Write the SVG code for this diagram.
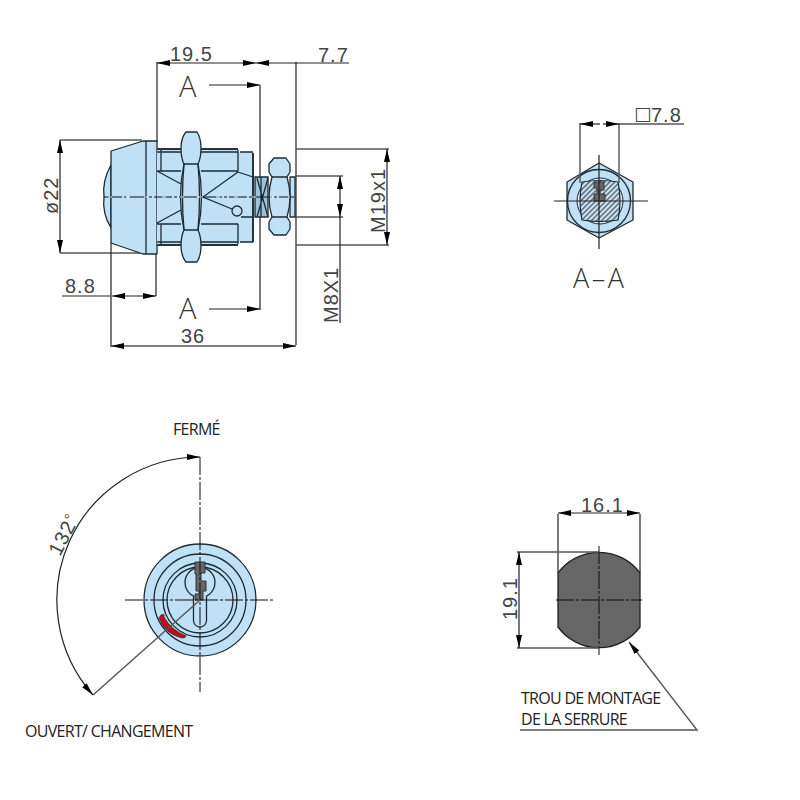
<svg xmlns="http://www.w3.org/2000/svg" width="800" height="800" viewBox="0 0 800 800">
<defs>
<marker id="a" markerUnits="userSpaceOnUse" markerWidth="14" markerHeight="6" refX="13" refY="3" orient="auto-start-reverse"><path d="M0 0L13 3L0 6Z" fill="#000"/></marker>
<pattern id="h" width="3.600" height="3.600" patternUnits="userSpaceOnUse" patternTransform="rotate(-45)"><rect width="3.600" height="3.600" fill="#cfe6f5"/><path d="M0 1.800H3.600" stroke="#2b3a44" stroke-width="1.100"/></pattern>
</defs>
<style>
.b{fill:#bfe0f5;stroke:#1d2b33;stroke-width:1.3;stroke-linejoin:round}
.n{fill:none;stroke:#1d2b33;stroke-width:1.3}
.k{fill:none;stroke:#24343e;stroke-width:2}
.d{fill:none;stroke:#222;stroke-width:1.2}
.g{fill:none;stroke:#555;stroke-width:1.4}
.c{fill:none;stroke:#111;stroke-width:1;stroke-dasharray:18 2 3 2}
.w{fill:none;stroke:#eef7fc;stroke-width:1.2;stroke-dasharray:4 14}
.t{font-family:"Liberation Sans",Arial,sans-serif;font-size:20px;fill:#444;letter-spacing:1px}
.s{font-family:"Open Sans","Liberation Sans",sans-serif;font-weight:300;font-size:29px;fill:#333}
.l{font-family:"Open Sans","Noto Sans",sans-serif;font-size:16px;fill:#222;letter-spacing:-.7px}
</style>
<g id="connectors">
<path class="d" d="M157 142V62M296 345V62M260 85V310"/>
<path class="d" d="M157 63H256" marker-start="url(#a)" marker-end="url(#a)"/>
<path class="d" d="M296 63H256" marker-end="url(#a)"/>
<path class="d" d="M296 63H349"/>
<path class="g" d="M60 140H142M60 253H144"/>
<path class="d" d="M60 140V253" marker-start="url(#a)" marker-end="url(#a)"/>
<path class="d" d="M111 243V347"/>
<path class="g" d="M111 346H296" marker-start="url(#a)" marker-end="url(#a)"/>
<path class="d" d="M156 254V296"/>
<path class="d" d="M62 296H111"/>
<path class="d" d="M112 296H156" marker-start="url(#a)" marker-end="url(#a)"/>
<path class="g" d="M296 149H389M296 245H389M295 176H343M295 217H343"/>
<path class="d" d="M387 149V245" marker-start="url(#a)" marker-end="url(#a)"/>
<path class="d" d="M340 176V217" marker-start="url(#a)" marker-end="url(#a)"/>
<path class="d" d="M340 217V323"/>
<path class="d" d="M209 85H260" marker-end="url(#a)"/>
<path class="d" d="M209 309H260" marker-end="url(#a)"/>
</g>
<g id="side-view">
<path class="b" d="M111 165Q102 181 104 197Q102 213 111 228Z"/>
<path class="b" d="M111 151L143 141H157V254H143L111 243Z"/>
<path class="n" d="M146 141V254"/>
<path class="b" d="M157 149H238V245H157Z" style="stroke:none"/>
<path class="b" d="M238 152H253V242H238Z" style="stroke:none"/>
<path class="k" d="M157 149H238M157 245H238M253 153V242"/>
<path class="n" d="M157 152H238M157 242H238M161 150V171M161 224V244M238 150V171M238 224V244M240 152H253M240 242H253M157 171L181 184M157 223L181 210M157 171H181M157 224H181M201 171H238M201 224H238M238 172L203 197L232 209M238 172L253 177M241 217H253"/>
<circle class="b" cx="237" cy="211" r="5"/>
<path d="M255 177H268V217H255Z" fill="#9cc3da" stroke="#1d2b33" stroke-width="1.300"/>
<path class="n" d="M257 178L268 217M268 178L257 217M261 177V217"/>
<path class="b" d="M290 177H295V217H290Z"/>
<path class="b" d="M274 158H286L290 164V172L287 177Q293 197 287 217L290 222V229L286 235H274L269 229V222L272 217Q266 197 272 177L269 172V164Z"/>
<path class="n" d="M272 177H287M272 217H287"/>
<path class="b" d="M186 132H197Q201 138 201 148Q201 158 198 164Q205 197 198 230Q201 236 201 246Q201 256 197 262H186Q181 256 181 246Q181 236 184 230Q177 197 184 164Q181 158 181 148Q181 138 186 132Z"/>
<path class="n" d="M184 164H198M184 230H198M184 164Q181 197 184 230M198 164Q201 197 198 230"/>
<path d="M104 197H294" class="c"/>
<path d="M108 197H290" class="w"/>
</g>
<g id="section-aa">
<path class="b" d="M599 163L633 182V220L599 238L567 220V182Z"/>
<circle class="b" cx="599" cy="201" r="31.500"/>
<circle cx="600" cy="201" r="23" fill="#d6ebf8" stroke="#1d2b33"/>
<path d="M582 182Q600 179 618 182Q622 201 618 220Q600 223 582 220Q578 201 582 182Z" fill="url(#h)" stroke="#1d2b33" stroke-width="1.200"/>
<path d="M594 182H604V190H600V194H605V201H594V194H597V188H594Z" fill="#666" stroke="#333"/>
<path class="d" d="M554 201H648M599 155V249"/>
<path class="g" d="M580 183V123M619 183V123M619 124H684"/>
<path class="d" d="M580 124H600" marker-start="url(#a)"/>
<path class="d" d="M619 124H603" marker-start="url(#a)"/>
</g>
<g id="front-view">
<circle class="b" cx="200" cy="600" r="56"/>
<circle class="n" cx="200" cy="600" r="46"/>
<circle class="n" cx="200" cy="600" r="37"/>
<circle class="n" cx="200" cy="600" r="33"/>
<path class="n" d="M193.500 596A15 15 0 1 1 206.500 596V620.500A6.500 6.500 0 0 1 193.500 620.500Z"/>
<path d="M195 562H205V573H201V581H206V591H203V600H195V594H199V591H196V574H195Z" fill="#666" stroke="#333"/>
<path d="M161 615Q165 613 164 617Q171 630 186 636Q186 638 182 638Q165 634 159 618Z" fill="#c00d1e" stroke="#333" stroke-width=".8"/>
<path class="c" d="M125 600H275M200 457V692"/>
<path class="g" d="M200 600L93 695"/>
<path class="d" d="M93 695A143 143 0 0 1 200 457" marker-start="url(#a)" marker-end="url(#a)"/>
</g>
<g id="mounting-hole">
<path d="M558 573A51 51 0 0 1 640 573V627A51 51 0 0 1 558 627Z" fill="#666" stroke="#222" stroke-width="1.300"/>
<path class="c" d="M556 600H642M599 546V655"/>
<path class="d" d="M558 573V514M640 573V514"/>
<path class="d" d="M558 513H640" marker-start="url(#a)" marker-end="url(#a)"/>
<path class="g" d="M517 552H599M517 648H599"/>
<path class="d" d="M519 552V648" marker-start="url(#a)" marker-end="url(#a)"/>
<path class="g" d="M629 642L697 730H520" marker-start="url(#a)"/>
</g>
<g id="labels">
<text class="t" x="170" y="61">19.5</text>
<text class="t" x="318" y="62">7.7</text>
<text class="s" x="179" y="97">A</text>
<text class="s" x="179" y="319">A</text>
<text class="t" x="65" y="293">8.8</text>
<text class="t" x="181" y="343">36</text>
<text class="t" transform="translate(58 214) rotate(-90)">ø22</text>
<text class="t" transform="translate(385 233) rotate(-90)">M19x1</text>
<text class="t" transform="translate(338 323) rotate(-90)">M8X1</text>
<text x="634" y="120" style="font-family:'DejaVu Sans',sans-serif;font-size:18.500px;fill:#444">□</text>
<text class="t" x="651" y="122">7.8</text>
<text class="s" x="573" y="288" style="font-size:27px;letter-spacing:2.500px">A–A</text>
<text class="t" x="581" y="512">16.1</text>
<text class="t" transform="translate(517 620) rotate(-90)">19.1</text>
<text class="t" transform="translate(60 557) rotate(-63)">132<tspan font-size="15" dy="-4">°</tspan></text>
<text class="l" x="173" y="435">FERMÉ</text>
<text class="l" x="25" y="737">OUVERT/ CHANGEMENT</text>
<text class="l" x="521" y="704">TROU DE MONTAGE</text>
<text class="l" x="521" y="725">DE LA SERRURE</text>
</g>
</svg>
